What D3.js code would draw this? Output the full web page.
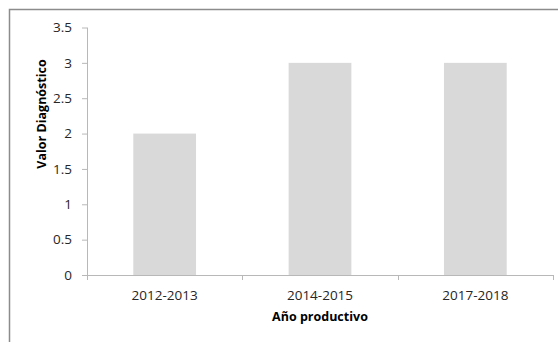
<!DOCTYPE html>
<html>
<head>
<meta charset="utf-8">
<script src="https://cdn.jsdelivr.net/npm/d3@7"></script>
<style>
  html, body { margin: 0; padding: 0; background: #fff; }
  svg { display: block; }
  text { font-family: "Open Sans", sans-serif; }
</style>
</head>
<body>
<svg id="chart" width="558" height="342"></svg>
<script>
const categories = ["2012-2013", "2014-2015", "2017-2018"];
const values = [2, 3, 3];
const yTicks = [0, 0.5, 1, 1.5, 2, 2.5, 3, 3.5];
const yTitle = "Valor Diagnóstico";
const xTitle = "Año productivo";

(function () {
const svg = d3.select("#chart");
const W = 558, H = 342;
const pLeft = 87, pRight = 553, pTop = 27.5, pBottom = 275;

// outer border (extends beyond right and bottom edges)
svg.append("rect")
  .attr("x", 9.5).attr("y", 9.5)
  .attr("width", W + 20).attr("height", H + 20)
  .attr("fill", "none").attr("stroke", "#8c8c8c").attr("stroke-width", 1.5);

const xb = d3.scaleBand().domain(categories).range([pLeft, pRight]);
const y = d3.scaleLinear().domain([0, 3.5]).range([pBottom, pTop]);
const barFrac = 0.404;

// bars
svg.append("g").selectAll("rect").data(values).join("rect")
  .attr("x", (d, i) => xb(categories[i]) + xb.bandwidth() * (1 - barFrac) / 2)
  .attr("width", xb.bandwidth() * barFrac)
  .attr("y", d => y(d))
  .attr("height", d => y(0) - y(d))
  .attr("fill", "#d9d9d9");

const axisColor = "#b8b8b8";
const textColor = "#262626";

// y axis
const gy = svg.append("g").attr("transform", `translate(${pLeft},0)`)
  .call(d3.axisLeft(y).tickValues(yTicks).tickSize(5).tickPadding(10).tickFormat(d3.format("")));
gy.select(".domain").attr("stroke", axisColor).attr("d", `M0.5,${pTop}V${pBottom + 5}`);
gy.selectAll(".tick line").attr("stroke", axisColor);
gy.selectAll(".tick text").attr("fill", textColor).style("font-size", "13.5px");

// x axis
const gx = svg.append("g").attr("transform", `translate(0,${pBottom})`)
  .call(d3.axisBottom(xb).tickSize(0).tickPadding(15));
gx.select(".domain").attr("stroke", axisColor).attr("d", `M${pLeft},0.5H${pRight}`);
gx.selectAll(".tick text").attr("fill", textColor).style("font-size", "13.5px");
// category boundary ticks
const bounds = categories.map(c => xb(c)).concat([pRight]);
gx.append("g").selectAll("line").data(bounds).join("line")
  .attr("x1", d => Math.round(d) + 0.5).attr("x2", d => Math.round(d) + 0.5)
  .attr("y1", 0).attr("y2", 5)
  .attr("stroke", axisColor);

// titles
svg.append("text")
  .attr("x", (pLeft + pRight) / 2).attr("y", 321)
  .attr("text-anchor", "middle")
  .style("font-size", "12.5px").style("font-weight", "bold").attr("fill", "#000")
  .text(xTitle);

svg.append("text")
  .attr("transform", `translate(46,114) rotate(-90)`)
  .attr("text-anchor", "middle")
  .style("font-size", "12.5px").style("font-weight", "bold").attr("fill", "#000")
  .text(yTitle);
})();
</script>
</body>
</html>
